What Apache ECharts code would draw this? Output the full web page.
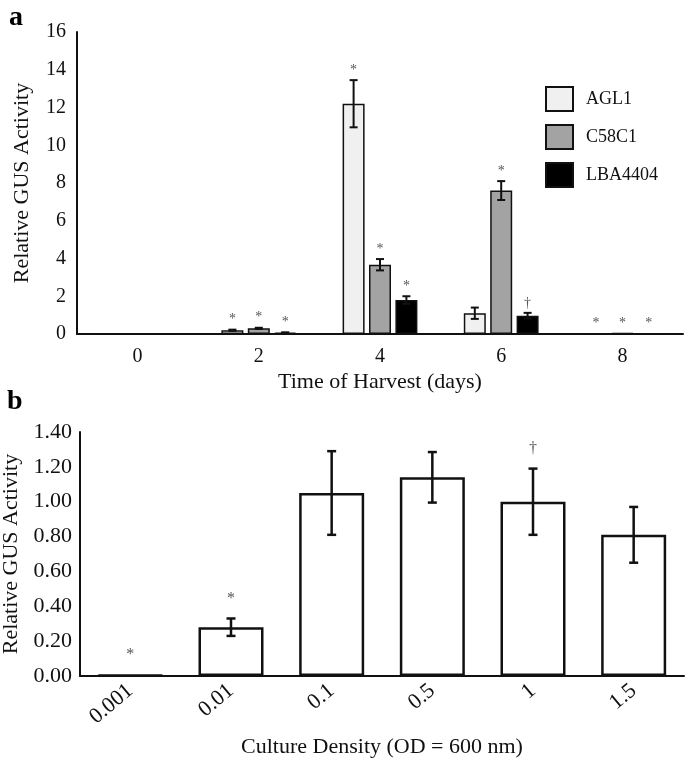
<!DOCTYPE html>
<html><head><meta charset="utf-8">
<script src="https://cdn.jsdelivr.net/npm/echarts@6/dist/echarts.min.js"></script>
<style>html,body{margin:0;padding:0;background:#fff}#c{width:685px;height:762px}</style>
</head><body><div id="c"></div>
<script>
// Panel a data
const dayCats = ['0', '2', '4', '6', '8'];
const agl1 = [0.02, 0.2, 12.2, 1.1, 0.02];
const agl1Err = [0, 0.03, 1.25, 0.3, 0];
const agl1Sig = ['', '*', '*', '', '*'];
const c58c1 = [0.02, 0.3, 3.67, 7.6, 0.05];
const c58c1Err = [0, 0.03, 0.3, 0.5, 0];
const c58c1Sig = ['', '*', '*', '*', '*'];
const lba4404 = [0.02, 0.07, 1.8, 0.97, 0.02];
const lba4404Err = [0, 0.02, 0.2, 0.15, 0];
const lba4404Sig = ['', '*', '*', '\u2020', '*'];
const aTicks = [0, 2, 4, 6, 8, 10, 12, 14, 16];

// Panel b data
const densCats = ['0.001', '0.01', '0.1', '0.5', '1', '1.5'];
const densVals = [0.005, 0.28, 1.05, 1.14, 1.0, 0.81];
const densErr = [0, 0.05, 0.24, 0.145, 0.19, 0.16];
const densSig = ['*', '*', '', '', '\u2020', ''];
const bTicks = [0, 0.2, 0.4, 0.6, 0.8, 1.0, 1.2, 1.4];

const FONT = 'Liberation Serif';
const chart = echarts.init(document.getElementById('c'), null, {renderer: 'canvas'});

const BW_A = 22, GAP_A = 4.4;
function errSeries(name, xIdx, yIdx, vals, errs, sigs, offset, capW, sigGap, sigSize, lw) {
  return {
    type: 'custom', name: name, xAxisIndex: xIdx, yAxisIndex: yIdx, z: 10, silent: true,
    data: vals.map((v, i) => [i, v, errs[i], sigs[i]]),
    renderItem: function (params, api) {
      const i = api.value(0), v = api.value(1), e = api.value(2);
      const sig = sigs[i];
      const top = api.coord([i, v + e]);
      const bot = api.coord([i, v - e]);
      const x = top[0] + offset;
      const children = [];
      if (e > 0) {
        const st = {stroke: '#111', lineWidth: lw};
        children.push({type: 'line', shape: {x1: x, y1: top[1], x2: x, y2: bot[1]}, style: st});
        children.push({type: 'line', shape: {x1: x - capW / 2, y1: top[1], x2: x + capW / 2, y2: top[1]}, style: st});
        children.push({type: 'line', shape: {x1: x - capW / 2, y1: bot[1], x2: x + capW / 2, y2: bot[1]}, style: st});
      }
      if (sig) {
        children.push({type: 'text', style: {text: sig, x: x, y: top[1] - sigGap, align: 'center', verticalAlign: 'middle',
          fill: '#555', font: sigSize + 'px "' + FONT + '"'}});
      }
      return {type: 'group', children: children};
    }
  };
}

const labA = {color: '#111', fontFamily: FONT, fontSize: 20};
const nameA = {color: '#111', fontFamily: FONT, fontSize: 22};
const labB = {color: '#111', fontFamily: FONT, fontSize: 22};
const nameB = {color: '#111', fontFamily: FONT, fontSize: 22};

const option = {
  animation: false,
  backgroundColor: '#fff',
  graphic: [
    {type: 'text', left: 9, top: 4, style: {text: 'a', font: 'bold 28px "' + FONT + '"', fill: '#000'}},
    {type: 'text', left: 7, top: 388, style: {text: 'b', font: 'bold 28px "' + FONT + '"', fill: '#000'}}
  ],
  legend: {
    data: ['AGL1', 'C58C1', 'LBA4404'],
    orient: 'vertical', left: 540, top: 81, itemWidth: 27, itemHeight: 24, itemGap: 12,
    icon: 'rect',
    textStyle: {fontFamily: FONT, fontSize: 18, color: '#111', padding: [0, 0, 0, 8]}
  },
  grid: [
    {left: 77, right: 2, top: 32, height: 302, outerBoundsMode: 'none', containLabel: false},
    {left: 80, right: 1, top: 432, height: 244, outerBoundsMode: 'none', containLabel: false}
  ],
  xAxis: [
    {type: 'category', gridIndex: 0, data: dayCats,
     axisLine: {lineStyle: {color: '#111', width: 2}}, axisTick: {show: false},
     axisLabel: Object.assign({margin: 13}, labA),
     name: 'Time of Harvest (days)', nameLocation: 'middle', nameGap: 37, nameTextStyle: nameA},
    {type: 'category', gridIndex: 1, data: densCats,
     axisLine: {lineStyle: {color: '#111', width: 2}}, axisTick: {show: false},
     axisLabel: Object.assign({margin: 12, rotate: 40}, labB),
     name: 'Culture Density (OD = 600 nm)', nameLocation: 'middle', nameGap: 60, nameTextStyle: nameB}
  ],
  yAxis: [
    {type: 'value', gridIndex: 0, min: aTicks[0], max: aTicks[aTicks.length - 1], interval: 2,
     axisLine: {show: true, lineStyle: {color: '#111', width: 2}}, axisTick: {show: false}, splitLine: {show: false},
     axisLabel: Object.assign({margin: 11}, labA),
     name: 'Relative GUS Activity', nameLocation: 'middle', nameGap: 44, nameTextStyle: nameA},
    {type: 'value', gridIndex: 1, min: bTicks[0], max: bTicks[bTicks.length - 1], interval: 0.2,
     axisLine: {show: true, lineStyle: {color: '#111', width: 2}}, axisTick: {show: false}, splitLine: {show: false},
     axisLabel: Object.assign({margin: 8, formatter: v => v.toFixed(2)}, labB),
     name: 'Relative GUS Activity', nameLocation: 'middle', nameGap: 52, nameTextStyle: nameB}
  ],
  series: [
    {type: 'bar', name: 'AGL1', xAxisIndex: 0, yAxisIndex: 0, data: agl1, barWidth: BW_A, barGap: '20%',
     itemStyle: {color: '#f0f0f0', borderColor: '#111', borderWidth: 1.5}},
    {type: 'bar', name: 'C58C1', xAxisIndex: 0, yAxisIndex: 0, data: c58c1, barWidth: BW_A, barGap: '20%',
     itemStyle: {color: '#a3a3a3', borderColor: '#111', borderWidth: 1.5}},
    {type: 'bar', name: 'LBA4404', xAxisIndex: 0, yAxisIndex: 0, data: lba4404, barWidth: BW_A, barGap: '20%',
     itemStyle: {color: '#000', borderColor: '#111', borderWidth: 1.5}},
    errSeries('eA', 0, 0, agl1, agl1Err, agl1Sig, -(BW_A + GAP_A), 8, 10, 14, 2),
    errSeries('eC', 0, 0, c58c1, c58c1Err, c58c1Sig, 0, 8, 10, 14, 2),
    errSeries('eL', 0, 0, lba4404, lba4404Err, lba4404Sig, (BW_A + GAP_A), 8, 10, 14, 2),
    {type: 'bar', name: 'density', xAxisIndex: 1, yAxisIndex: 1, data: densVals, barWidth: 65,
     itemStyle: {color: '#fff', borderColor: '#111', borderWidth: 2.5}},
    errSeries('eB', 1, 1, densVals, densErr, densSig, 0, 9, 20, 16, 2.5)
  ]
};
chart.setOption(option);
</script>
</body></html>
